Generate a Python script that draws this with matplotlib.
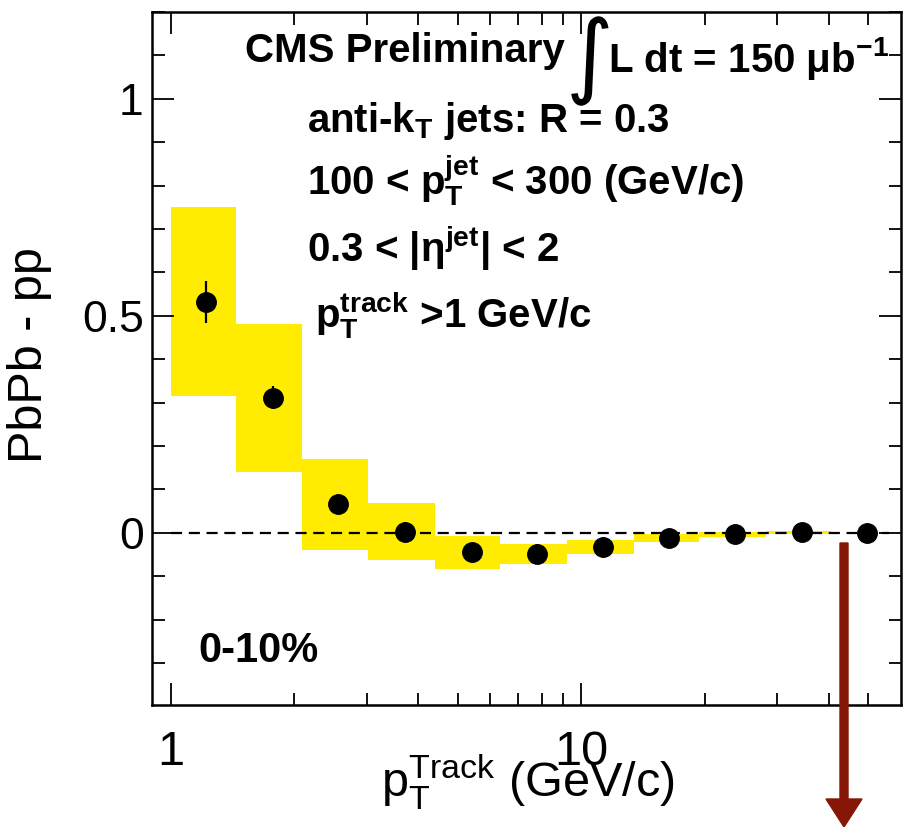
import numpy as np
import matplotlib
matplotlib.use('Agg')
import matplotlib.pyplot as plt
from matplotlib.patches import FancyArrow

plt.rcParams['font.family'] = ['Liberation Sans', 'DejaVu Sans']
plt.rcParams['mathtext.fontset'] = 'custom'
plt.rcParams['mathtext.rm'] = 'Liberation Sans'
plt.rcParams['mathtext.it'] = 'Liberation Sans'
plt.rcParams['mathtext.bf'] = 'Liberation Sans:bold'

# data
bin_edges = [1.0, 1.445, 2.09, 3.02, 4.41, 6.35, 9.23, 13.4, 19.3, 28.1, 40.5, 58.5]
pt_track = [1.22, 1.77, 2.56, 3.72, 5.41, 7.8, 11.3, 16.3, 23.7, 34.5, 49.6]
diff = [0.532, 0.311, 0.066, 0.002, -0.045, -0.049, -0.032, -0.012, -0.004, 0.001, 0.0]
stat_err = [0.049, 0.026, 0.022, 0.022, 0.022, 0.022, 0.021, 0.021, 0.021, 0.021, 0.021]
syst_err = [0.218, 0.170, 0.105, 0.066, 0.038, 0.024, 0.016, 0.010, 0.005, 0.0035, 0.0]

W, H = 916, 827
fig = plt.figure(figsize=(W / 100, H / 100), dpi=100)
ax = fig.add_axes([152 / W, 1 - 705 / H, (901 - 152) / W, (705 - 12) / H])

# systematic boxes
edges = np.array(bin_edges)
lo = np.array(diff) - np.array(syst_err)
ax.bar(edges[:-1], 2 * np.array(syst_err), width=np.diff(edges), bottom=lo,
       align='edge', color='#ffec00', linewidth=0, zorder=1)

ax.hlines(0, 1.0, 56, colors='black', linestyles=(0, (5, 3)), linewidth=1.6, zorder=2)

ax.errorbar(pt_track, diff, yerr=stat_err, fmt='o', color='black', ms=14,
            elinewidth=1.6, capsize=0, zorder=3)

ax.set_xscale('log')
ax.set_xlim(0.9, 60)
ax.set_ylim(-0.397, 1.2)

ax.set_xticks([1, 10])
ax.set_xticklabels(['1', '10'])
ax.set_xticks([2, 3, 4, 5, 6, 7, 8, 9, 20, 30, 40, 50], minor=True)
ax.xaxis.set_minor_formatter(matplotlib.ticker.NullFormatter())
ax.set_yticks([0, 0.5, 1])
ax.set_yticklabels(['0', '0.5', '1'])
ax.set_yticks(np.arange(-0.3, 1.21, 0.1), minor=True)

ax.tick_params(which='both', direction='in', top=True, right=True, width=1.3)
ax.tick_params(which='major', length=16)
ax.tick_params(which='minor', length=9)
ax.tick_params(axis='y', labelsize=32, pad=6)
ax.tick_params(axis='x', labelsize=35, pad=18)
for s in ax.spines.values():
    s.set_linewidth(1.8)

ax.set_ylabel('PbPb - pp', fontsize=35)
ax.yaxis.set_label_coords((52 - 152) / 749, (705 - 355) / 693)
ax.set_xlabel(r'p$_\mathregular{T}^\mathregular{Track}$ (GeV/c)', fontsize=35)
ax.xaxis.set_label_coords((528 - 152) / 749, (705 - 752) / 693)


def ftext(x, y, s, **kw):
    fig.text(x / W, 1 - y / H, s, va='baseline', ha='left', **kw)


bold = dict(fontsize=29, fontweight='bold')
ftext(245, 62, 'CMS Preliminary', **bold)
ftext(566, 86, '\u222b', fontsize=66, family=['DejaVu Sans'])
ftext(608, 72, r'L dt = 150 μb$^\mathbf{-1}$', **bold)
ftext(307, 132, r'anti-k$_\mathbf{T}$ jets: R = 0.3', **bold)
ftext(307, 195, r'100 < $\mathbf{p_T^{jet}}$ < 300 (GeV/c)', **bold)
ftext(307, 262, r'0.3 < |$\mathregular{\eta^{\mathbf{jet}}}$| < 2', **bold)
ftext(315, 328, r'$\mathbf{p_T^{track}}$ >1 GeV/c', **bold)
ftext(198, 662, '0-10%', fontsize=30, fontweight='bold')

# red arrow outside the frame
arrow = FancyArrow(8.44, (H - 543) / 100, 0, -(H - 543) / 100, width=0.08,
                   head_width=0.36, head_length=0.28, length_includes_head=True,
                   color='#861606', transform=fig.dpi_scale_trans, clip_on=False)
fig.add_artist(arrow)

fig.savefig('out.png', dpi=100)
